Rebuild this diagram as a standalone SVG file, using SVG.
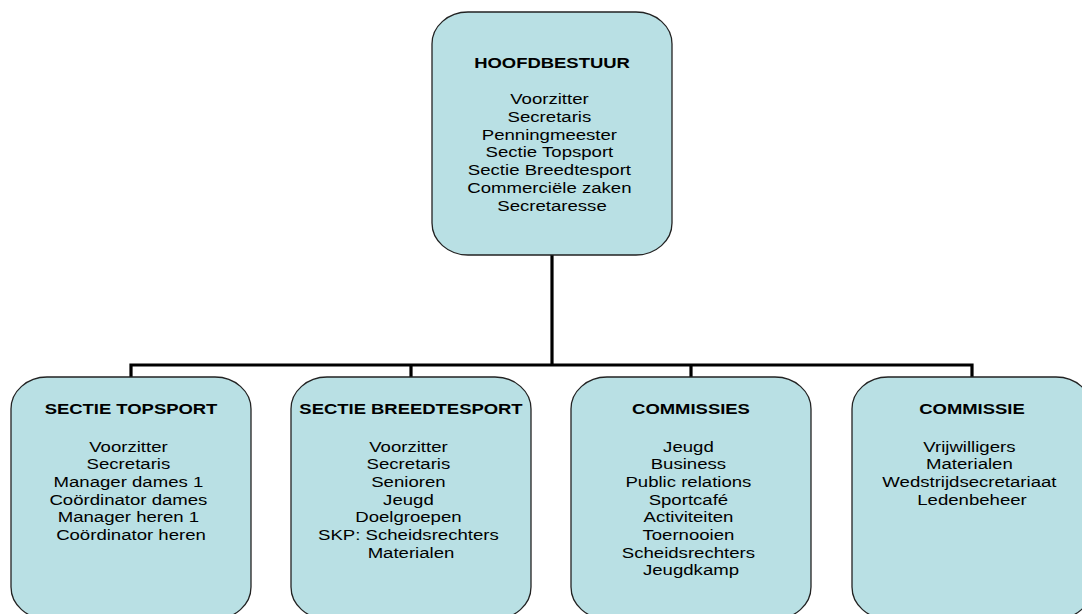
<svg xmlns="http://www.w3.org/2000/svg" width="1082" height="614" viewBox="0 0 1082 614">
<style>
  .box { fill: #B9E0E4; stroke: #222; stroke-width: 1.3; }
  .conn { fill: none; stroke: #000; stroke-width: 3.2; }
  text { font-family: "Liberation Sans", Arial, sans-serif; font-size: 15px; fill: #000; text-anchor: middle; }
  .title { font-weight: bold; }
</style>
<rect width="1082" height="614" fill="#fff"/>
<g id="connectors">
  <path class="conn" d="M552 255 V365"/>
  <path class="conn" d="M131 377 V365 H972 V377"/>
  <path class="conn" d="M411 365 V377"/>
  <path class="conn" d="M691 365 V377"/>
</g>
<g id="hoofdbestuur">
  <rect class="box" x="432" y="12" width="240" height="243" rx="36" ry="32"/>
  <text class="title" transform="translate(552,68) scale(1.23,1)">HOOFDBESTUUR</text>
  <text transform="translate(552,104) scale(1.24,1)">
    <tspan x="0" y="0">Voorzitter</tspan>
    <tspan x="0" y="17.8">Secretaris</tspan>
    <tspan x="0" y="35.6">Penningmeester</tspan>
    <tspan x="0" y="53.4">Sectie Topsport</tspan>
    <tspan x="0" y="71.2">Sectie Breedtesport</tspan>
    <tspan x="0" y="89">Commerciële zaken</tspan>
    <tspan x="0" y="106.8">Secretaresse</tspan>
  </text>
</g>
<g id="sectie-topsport">
  <rect class="box" x="11" y="377" width="240" height="242" rx="36" ry="32"/>
  <text class="title" transform="translate(131,414) scale(1.23,1)">SECTIE TOPSPORT</text>
  <text transform="translate(131,451.5) scale(1.24,1)">
    <tspan x="0" y="0">Voorzitter</tspan>
    <tspan x="0" y="17.7">Secretaris</tspan>
    <tspan x="0" y="35.4">Manager dames 1</tspan>
    <tspan x="0" y="53.1">Coördinator dames</tspan>
    <tspan x="0" y="70.8">Manager heren 1</tspan>
    <tspan x="0" y="88.5">Coördinator heren</tspan>
  </text>
</g>
<g id="sectie-breedtesport">
  <rect class="box" x="291" y="377" width="240" height="242" rx="36" ry="32"/>
  <text class="title" transform="translate(411,414) scale(1.23,1)">SECTIE BREEDTESPORT</text>
  <text transform="translate(411,451.5) scale(1.24,1)">
    <tspan x="0" y="0">Voorzitter</tspan>
    <tspan x="0" y="17.7">Secretaris</tspan>
    <tspan x="0" y="35.4">Senioren</tspan>
    <tspan x="0" y="53.1">Jeugd</tspan>
    <tspan x="0" y="70.8">Doelgroepen</tspan>
    <tspan x="0" y="88.5">SKP: Scheidsrechters</tspan>
    <tspan x="0" y="106.2">Materialen</tspan>
  </text>
</g>
<g id="commissies">
  <rect class="box" x="571" y="377" width="240" height="242" rx="36" ry="32"/>
  <text class="title" transform="translate(691,414) scale(1.23,1)">COMMISSIES</text>
  <text transform="translate(691,451.5) scale(1.24,1)">
    <tspan x="0" y="0">Jeugd</tspan>
    <tspan x="0" y="17.7">Business</tspan>
    <tspan x="0" y="35.4">Public relations</tspan>
    <tspan x="0" y="53.1">Sportcafé</tspan>
    <tspan x="0" y="70.8">Activiteiten</tspan>
    <tspan x="0" y="88.5">Toernooien</tspan>
    <tspan x="0" y="106.2">Scheidsrechters</tspan>
    <tspan x="0" y="123.9">Jeugdkamp</tspan>
  </text>
</g>
<g id="commissie">
  <rect class="box" x="852" y="377" width="240" height="242" rx="36" ry="32"/>
  <text class="title" transform="translate(972,414) scale(1.23,1)">COMMISSIE</text>
  <text transform="translate(972,451.5) scale(1.24,1)">
    <tspan x="0" y="0">Vrijwilligers</tspan>
    <tspan x="0" y="17.7">Materialen</tspan>
    <tspan x="0" y="35.4">Wedstrijdsecretariaat</tspan>
    <tspan x="0" y="53.1">Ledenbeheer</tspan>
  </text>
</g>
</svg>
